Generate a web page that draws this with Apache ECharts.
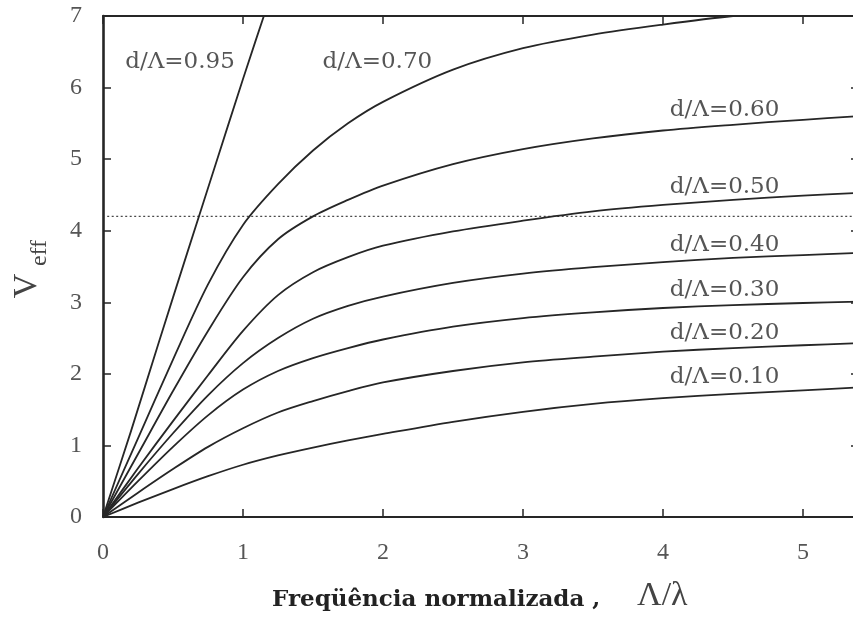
<!DOCTYPE html>
<html>
<head>
<meta charset="utf-8">
<script src="https://cdn.jsdelivr.net/npm/echarts@6/dist/echarts.min.js"></script>
<style>
  html, body { margin: 0; padding: 0; background: #fff; overflow: hidden; }
  #chart { width: 864px; height: 617px; }
</style>
</head>
<body>
<div id="chart"></div>
<script>
// Normalised frequency Λ/λ sampled for the curves
const freqX = [0, 0.25, 0.5, 0.75, 1, 1.25, 1.5, 1.75, 2, 2.5, 3, 3.5, 4, 4.5, 5, 5.4];

// V_eff for each hole-size ratio d/Λ
const veff010 = [0, 0.20, 0.39, 0.57, 0.73, 0.86, 0.97, 1.07, 1.16, 1.33, 1.47, 1.58, 1.66, 1.72, 1.77, 1.81];
const veff020 = [0, 0.34, 0.67, 0.98, 1.24, 1.46, 1.62, 1.76, 1.88, 2.04, 2.16, 2.24, 2.31, 2.36, 2.40, 2.43];
const veff030 = [0, 0.50, 0.98, 1.42, 1.78, 2.04, 2.22, 2.36, 2.48, 2.66, 2.78, 2.86, 2.92, 2.96, 2.99, 3.01];
const veff040 = [0, 0.60, 1.17, 1.70, 2.15, 2.50, 2.77, 2.95, 3.08, 3.27, 3.40, 3.49, 3.56, 3.62, 3.66, 3.69];
const veff050 = [0, 0.68, 1.34, 1.98, 2.60, 3.10, 3.42, 3.63, 3.79, 3.99, 4.14, 4.27, 4.36, 4.43, 4.49, 4.53];
const veff060 = [0, 0.88, 1.76, 2.60, 3.35, 3.88, 4.20, 4.43, 4.63, 4.93, 5.14, 5.29, 5.40, 5.48, 5.55, 5.60];
const veff070 = [0, 1.10, 2.20, 3.25, 4.08, 4.65, 5.12, 5.50, 5.80, 6.25, 6.55, 6.74, 6.88, 7.00, 7.08, 7.12];

// The d/Λ = 0.95 curve rises almost linearly and leaves the frame early
const freqX095 = [0, 0.2, 0.4, 0.6, 0.8, 1.0, 1.2];
const veff095  = [0, 1.20, 2.45, 3.68, 4.90, 6.12, 7.30];

// Single-mode cutoff level
const cutoffV = 4.2;

// Curve names and where their captions sit (data coordinates)
const ratioNames = ['d/Λ=0.95', 'd/Λ=0.70', 'd/Λ=0.60', 'd/Λ=0.50', 'd/Λ=0.40', 'd/Λ=0.30', 'd/Λ=0.20', 'd/Λ=0.10'];
const captionX   = [0.55, 1.96, 4.44, 4.44, 4.44, 4.44, 4.44, 4.44];
const captionY   = [6.35, 6.35, 5.68, 4.61, 3.80, 3.17, 2.57, 1.96];

// Axis ranges and ticks
const xMin = 0, xMax = 5.4, xStep = 1;
const yMin = 0, yMax = 7, yStep = 1;

const ink = '#262626';
const tickFont = 'Liberation Serif, Times New Roman, serif';
const textFont = 'DejaVu Serif, serif';

function zip(xs, ys) { return xs.map((x, i) => [x, ys[i]]); }

const curveSets = [
  zip(freqX095, veff095),
  zip(freqX, veff070),
  zip(freqX, veff060),
  zip(freqX, veff050),
  zip(freqX, veff040),
  zip(freqX, veff030),
  zip(freqX, veff020),
  zip(freqX, veff010)
];

const curveSeries = curveSets.map((pts, i) => ({
  name: ratioNames[i],
  type: 'line',
  data: pts,
  showSymbol: false,
  smooth: 0.3,
  clip: true,
  silent: true,
  lineStyle: { color: ink, width: 1.8 },
  z: 3
}));

const cutoffSeries = {
  type: 'line',
  data: [[0.03, cutoffV], [xMax, cutoffV]],
  showSymbol: false,
  silent: true,
  lineStyle: { color: '#4a4a4a', width: 1.3, type: [2, 2.5] },
  z: 2
};

const captionSeries = {
  type: 'scatter',
  data: captionX.map((x, i) => [x, captionY[i], ratioNames[i]]),
  symbolSize: 0,
  silent: true,
  label: {
    show: true,
    position: 'inside',
    formatter: p => p.data[2],
    fontFamily: textFont,
    fontSize: 23,
    color: '#2a2a2a'
  },
  z: 4
};

const integerOnly = v => (Math.abs(v - Math.round(v)) < 1e-9 ? String(Math.round(v)) : '');

const axisLineStyle = { color: ink, width: 2 };

const chart = echarts.init(document.getElementById('chart'), null, { renderer: 'canvas' });
chart.setOption({
  animation: false,
  backgroundColor: '#ffffff',
  grid: { left: 103, right: 5, top: 16, bottom: 100, containLabel: false },
  xAxis: [
    {
      type: 'value', position: 'bottom', min: xMin, max: xMax, interval: xStep,
      axisLine: { show: true, onZero: false, lineStyle: axisLineStyle },
      axisTick: { show: true, inside: true, length: 8, lineStyle: { color: ink, width: 1.5 } },
      axisLabel: { margin: 24, formatter: integerOnly, fontFamily: tickFont, fontSize: 24, color: '#555' },
      splitLine: { show: false }
    },
    {
      type: 'value', position: 'top', min: xMin, max: xMax, interval: xStep,
      axisLine: { show: true, onZero: false, lineStyle: axisLineStyle },
      axisTick: { show: true, inside: true, length: 8, lineStyle: { color: ink, width: 1.5 } },
      axisLabel: { show: false },
      splitLine: { show: false }
    }
  ],
  yAxis: [
    {
      type: 'value', position: 'left', min: yMin, max: yMax, interval: yStep,
      axisLine: { show: true, onZero: false, lineStyle: { color: ink, width: 2.6 } },
      axisTick: { show: true, inside: true, length: 8, lineStyle: { color: ink, width: 1.5 } },
      axisLabel: { margin: 21, fontFamily: tickFont, fontSize: 24, color: '#555' },
      splitLine: { show: false }
    },
    {
      type: 'value', position: 'right', min: yMin, max: yMax, interval: yStep,
      axisLine: { show: true, onZero: false, lineStyle: axisLineStyle },
      axisTick: { show: true, inside: true, length: 8, lineStyle: { color: ink, width: 1.5 } },
      axisLabel: { show: false },
      splitLine: { show: false }
    }
  ],
  series: [cutoffSeries, ...curveSeries, captionSeries],
  graphic: [
    {
      type: 'text', x: 27, y: 286, rotation: Math.PI / 2,
      style: { text: 'V', font: '34px "Liberation Serif", serif', fill: '#444', align: 'center', verticalAlign: 'middle' }
    },
    {
      type: 'text', x: 40, y: 253, rotation: Math.PI / 2,
      style: { text: 'eff', font: '24px "Liberation Serif", serif', fill: '#444', align: 'center', verticalAlign: 'middle' }
    },
    {
      type: 'text', x: 272, y: 600,
      style: { text: 'Freqüência normalizada ,', font: 'bold 23px "DejaVu Serif", serif', fill: '#222', align: 'left', verticalAlign: 'middle' }
    },
    {
      type: 'text', x: 637, y: 596,
      style: { text: 'Λ/λ', font: '34px "Liberation Serif", serif', fill: '#444', align: 'left', verticalAlign: 'middle' }
    }
  ]
});
</script>
</body>
</html>
